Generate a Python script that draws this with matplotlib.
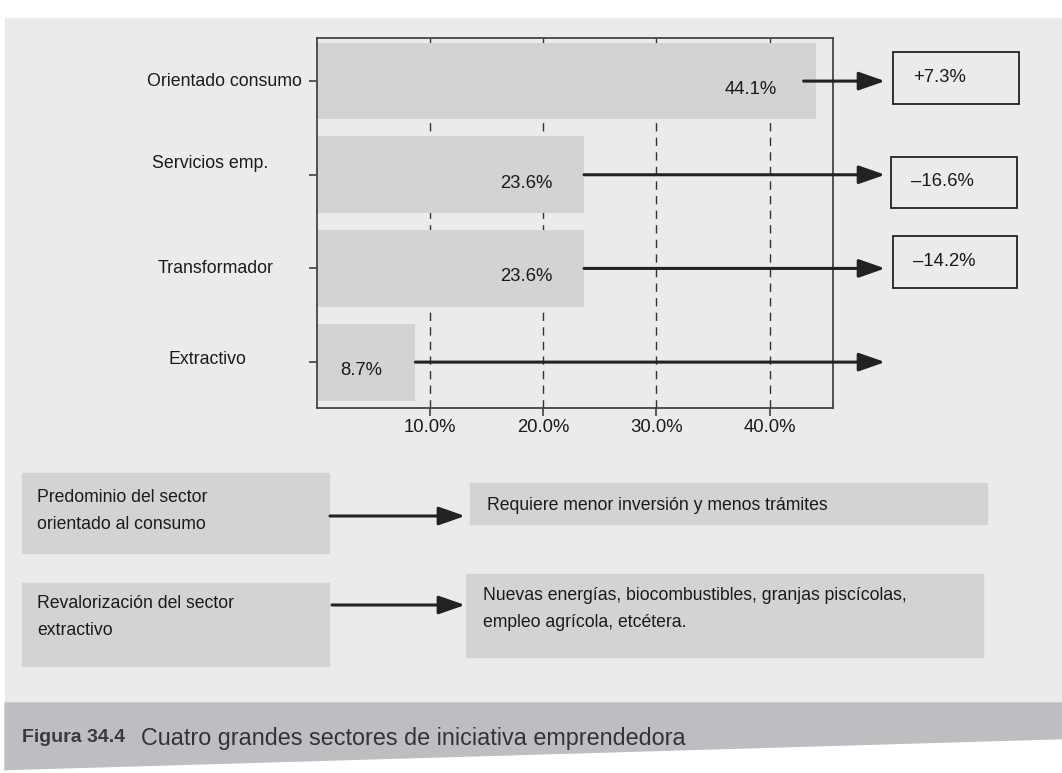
import matplotlib.pyplot as plt
from matplotlib.patches import Rectangle, Polygon

# data
sectors = ['Orientado consumo', 'Servicios emp.', 'Transformador', 'Extractivo']
shares = [44.1, 23.6, 23.6, 8.7]
changes = ['+7.3%', '\u201316.6%', '\u201314.2%', '']
xticks = [10, 20, 30, 40]

notes_left = ['Predominio del sector\norientado al consumo',
              'Revalorizaci\u00f3n del sector\nextractivo']
notes_right = ['Requiere menor inversi\u00f3n y menos tr\u00e1mites',
               'Nuevas energ\u00edas, biocombustibles, granjas pisc\u00edcolas,\nempleo agr\u00edcola, etc\u00e9tera.']
fig_num = 'Figura 34.4'
caption = 'Cuatro grandes sectores de iniciativa emprendedora'

FONT = ['Liberation Sans', 'DejaVu Sans']
DARK = '#222222'
TXT = '#1a1a1a'
BAR = '#d2d3d5'
BG = '#ebebeb'

W, H = 1062, 773
fig = plt.figure(figsize=(W / 100, H / 100), dpi=100)
fig.patch.set_facecolor('white')

# background canvas in pixel coordinates
bg = fig.add_axes([0, 0, 1, 1])
bg.set_xlim(0, W)
bg.set_ylim(H, 0)
bg.axis('off')
bg.add_patch(Rectangle((5, 18), W - 5, H - 18, color=BG, zorder=0))
bg.add_patch(Polygon([(5, 703), (W, 703), (W, 740), (5, 771)], color='#bdbec1', zorder=1))
bg.add_patch(Polygon([(5, 771), (W, 740), (W, H), (5, H)], color='white', zorder=1))
bg.text(22, 738, fig_num, family=FONT, fontsize=14,
        fontweight='bold', color='#3a3a3a', va='center', ha='left', zorder=2)
bg.text(141, 738, caption, family=FONT, fontsize=16.8, color='#333333',
        va='center', ha='left', zorder=2)

# lower panel: boxes and arrows
left_boxes = [(22, 473, 307, 80), (22, 583, 307, 83)]
right_boxes = [(470, 483, 517, 41), (466, 574, 517, 83)]
left_text_y = [511, 617]
right_text_y = [505, 609]
arrow_rows = [(330, 516), (332, 605)]
arrow_style = '-|>,head_length=0.8,head_width=0.28'
for i in range(2):
    x, y, w, h = left_boxes[i]
    bg.add_patch(Rectangle((x, y), w, h, color=BAR, zorder=2))
    bg.text(x + 15, left_text_y[i], notes_left[i], family=FONT, fontsize=12.7,
            color=TXT, va='center', ha='left', linespacing=1.75, zorder=3)
    x, y, w, h = right_boxes[i]
    bg.add_patch(Rectangle((x, y), w, h, color=BAR, zorder=2))
    bg.text(x + 17, right_text_y[i], notes_right[i], family=FONT, fontsize=12.7,
            color=TXT, va='center', ha='left', linespacing=1.7, zorder=3)
    ax0, ay0 = arrow_rows[i]
    bg.annotate('', xy=(465, ay0), xytext=(ax0, ay0),
                arrowprops=dict(arrowstyle=arrow_style, color=DARK, lw=2.2,
                                mutation_scale=20, shrinkA=0, shrinkB=0),
                zorder=3)

# change boxes on the right of the chart
change_boxes = [(893, 52, 126, 52), (891, 157, 126, 51), (893, 236, 124, 52)]
for (x, y, w, h), txt in zip(change_boxes, changes[:3]):
    bg.add_patch(Rectangle((x, y), w, h, facecolor='none', edgecolor=DARK,
                           lw=1.3, zorder=2))
    bg.text(x + 20, y + h / 2 - 1, txt, family=FONT, fontsize=13.3, color=TXT,
            va='center', ha='left', zorder=3)

# the bar chart
ax = fig.add_axes([317 / W, 1 - 408 / H, 516 / W, 370 / H])
ax.set_facecolor('none')
ax.set_zorder(2)
ypos = list(range(len(sectors)))
for x in xticks:
    ax.axvline(x, color='#333333', lw=1.0, dashes=(6, 4.5), zorder=0)
ax.barh(ypos, shares, height=0.82, color=BAR, zorder=1)
ax.set_xlim(0, 45.6)
ax.set_ylim(3.49, -0.46)

# bar value labels, placed just inside the bar ends
label_dx = [-28, -23, -23, -24]
for i, s in enumerate(shares):
    ax.annotate(f'{s:.1f}%', xy=(s, i), xytext=(label_dx[i], -6),
                textcoords='offset points', ha='right', va='center',
                family=FONT, fontsize=13.3, color=TXT, zorder=3)

# arrows from bars to the change boxes
arrow_gap = [-1.1, 0, 0, 0]
for i, s in enumerate(shares):
    ax.annotate('', xy=(50.2, i), xytext=(s + arrow_gap[i], i),
                arrowprops=dict(arrowstyle=arrow_style, color=DARK, lw=2.2,
                                mutation_scale=20, shrinkA=0, shrinkB=0),
                annotation_clip=False, zorder=4)

ax.set_xticks(xticks)
ax.set_xticklabels([f'{t:.1f}%' for t in xticks], family=FONT, fontsize=13.3,
                   color=TXT)
ax.tick_params(axis='x', length=6, width=1.1, color='#333333', pad=2)

# y labels sit at slightly different spots in the original
ax.set_yticks(ypos)
ax.set_yticklabels([])
ax.tick_params(axis='y', length=6, width=1.1, color='#333333')
ylab_dx = [-5, -29, -25, -45]
ylab_dy = [0, 8, 0, 2]
for i, name in enumerate(sectors):
    ax.annotate(name, xy=(0, i), xycoords=('axes fraction', 'data'),
                xytext=(ylab_dx[i] - 6, ylab_dy[i]), textcoords='offset points',
                ha='right', va='center', family=FONT, fontsize=12.8,
                color=TXT, annotation_clip=False)

for sp in ax.spines.values():
    sp.set_color('#444444')
    sp.set_linewidth(1.3)

fig.savefig('out.png', dpi=100)
